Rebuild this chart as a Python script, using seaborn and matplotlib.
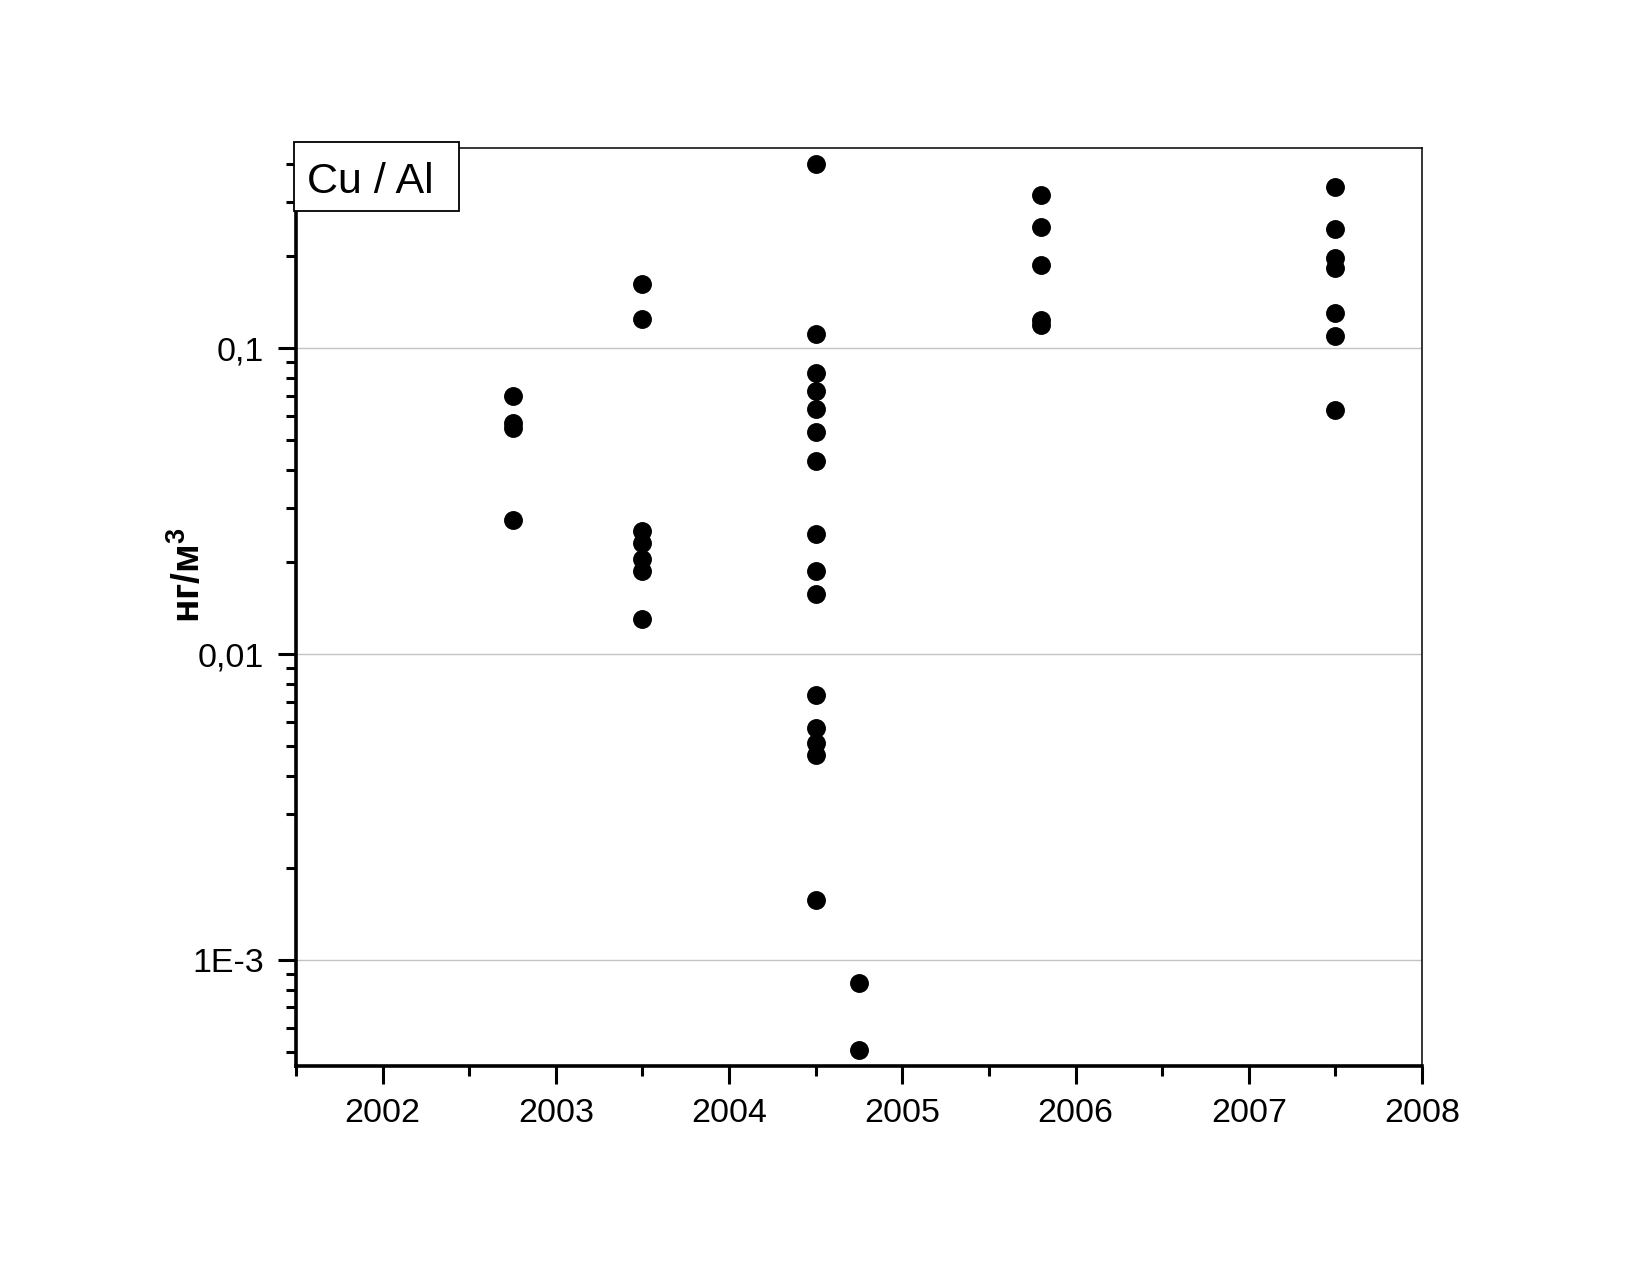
import numpy as np
import pandas as pd
import matplotlib
matplotlib.use("Agg")
import matplotlib.pyplot as plt
import matplotlib.ticker as mticker
from matplotlib.patches import Rectangle
import seaborn as sns

# =====================
# DATA (Cu / Al, нг/м3)
# =====================
dates = [2002.75, 2003.5, 2004.5, 2004.75, 2005.8, 2007.5]
vals_2002_75 = [0.0699, 0.0572, 0.0551, 0.0275]
vals_2003_5 = [0.162, 0.1247, 0.0252, 0.0231, 0.0204, 0.01875, 0.0130]
vals_2004_5 = [0.40, 0.111, 0.0829, 0.0727, 0.0632, 0.0531, 0.0428, 0.0247,
               0.01875, 0.0157, 0.00733, 0.00573, 0.00512, 0.00468, 0.00157]
vals_2004_75 = [0.00084, 0.000506]
vals_2005_8 = [0.318, 0.2495, 0.188, 0.1237, 0.1191]
vals_2007_5 = [0.338, 0.2465, 0.197, 0.183, 0.130, 0.110, 0.0628]

all_vals = [vals_2002_75, vals_2003_5, vals_2004_5, vals_2004_75, vals_2005_8, vals_2007_5]

year_ticks = [2002, 2003, 2004, 2005, 2006, 2007, 2008]
y_ticks = [0.001, 0.01, 0.1]
y_tick_labels = ["1E-3", "0,01", "0,1"]

rows = []
for d, vs in zip(dates, all_vals):
    for v in vs:
        rows.append({"year": d, "value": v})
df = pd.DataFrame(rows)

# =====================
# PLOT
# =====================
sns.set_style("ticks")
plt.rcParams["font.family"] = ["Liberation Sans", "DejaVu Sans"]
plt.rcParams["mathtext.default"] = "regular"
plt.rcParams["text.color"] = "black"
plt.rcParams["axes.labelcolor"] = "black"
plt.rcParams["xtick.color"] = "black"
plt.rcParams["ytick.color"] = "black"
plt.rcParams["axes.edgecolor"] = "black"

fig = plt.figure(figsize=(16.5, 12.75), dpi=100)
ax = fig.add_axes([296 / 1650, 1 - 1066 / 1275, 1126 / 1650, 918 / 1275])

sns.scatterplot(data=df, x="year", y="value", ax=ax, color="black",
                s=185, linewidth=0, marker="o", zorder=3)

ax.set_yscale("log")
ax.set_xlim(2001.5, 2008)
ax.set_ylim(4.5e-4, 0.452)

ax.xaxis.set_major_locator(mticker.FixedLocator(year_ticks))
ax.xaxis.set_major_formatter(mticker.FixedFormatter([str(y) for y in year_ticks]))
ax.xaxis.set_minor_locator(mticker.MultipleLocator(0.5))

ax.yaxis.set_major_locator(mticker.FixedLocator(y_ticks))
ax.yaxis.set_major_formatter(mticker.FixedFormatter(y_tick_labels))
ax.yaxis.set_minor_locator(mticker.LogLocator(base=10, subs=np.arange(2, 10)))
ax.yaxis.set_minor_formatter(mticker.NullFormatter())

ax.grid(axis="y", which="major", color="#c4c4c4", linewidth=1.0, zorder=0)
ax.grid(axis="x", visible=False)

for side in ["left", "bottom"]:
    ax.spines[side].set_linewidth(2.6)
for side in ["top", "right"]:
    ax.spines[side].set_linewidth(1.1)

ax.tick_params(axis="both", which="major", direction="out", length=13,
               width=2.2, labelsize=24.5, pad=10)
ax.tick_params(axis="both", which="minor", direction="out", length=7.5,
               width=2.2)

ax.set_xlabel("")
ax.set_ylabel("нг/м$^{3}$", fontsize=28, fontweight="bold")
ax.yaxis.set_label_coords(-0.078, 0.535)

# label box "Cu / Al"
box = Rectangle((294 / 1650, 1 - 211 / 1275), 165 / 1650, 69 / 1275,
                transform=fig.transFigure, facecolor="white",
                edgecolor="black", linewidth=1.3, zorder=5)
fig.patches.append(box)
fig.text(307 / 1650, 1 - 193 / 1275, "Cu / Al", fontsize=31,
         ha="left", va="baseline", zorder=6)

plt.savefig("out.png", dpi=100)
